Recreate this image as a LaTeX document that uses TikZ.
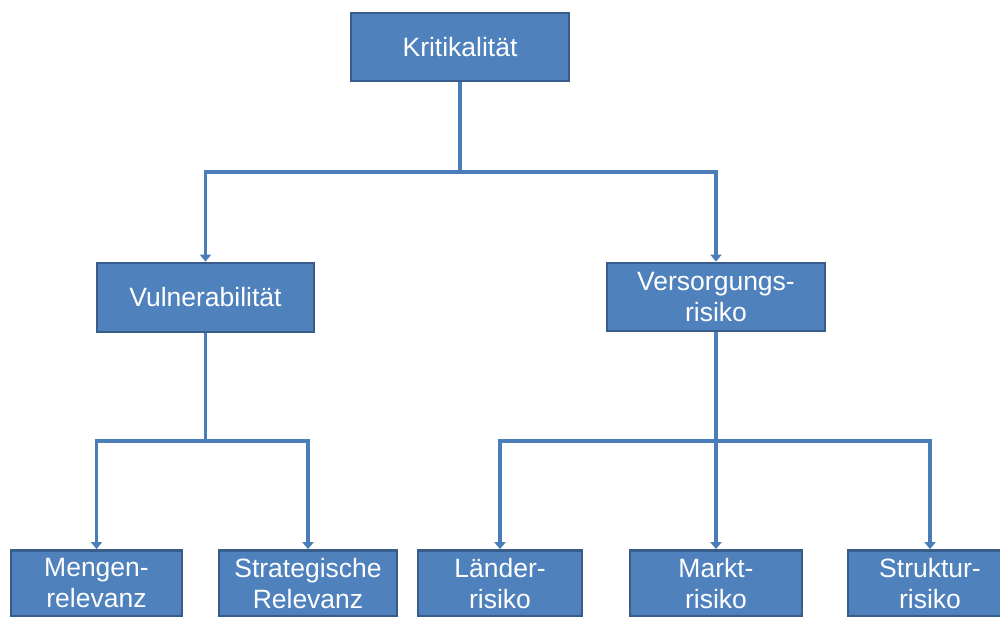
\documentclass[tikz,border=0pt]{standalone}
\usepackage{fontspec}
\setmainfont{Liberation Sans}
\usetikzlibrary{arrows.meta}
\definecolor{boxfill}{HTML}{4F81BD}
\definecolor{boxline}{HTML}{385D8A}
\definecolor{linkcol}{HTML}{4A7EBB}
\tikzset{
  box/.style={draw=boxline, line width=2.8pt, fill=boxfill, text=white, align=center,
    inner sep=0pt, font=\fontsize{26.5}{31}\selectfont},
  conn/.style={draw=linkcol, line width=3.2pt, -{Triangle[width=11pt,length=7pt]}},
  link/.style={draw=linkcol, line width=3.2pt},
}
\begin{document}
\begin{tikzpicture}[x=1pt,y=-1pt]
\useasboundingbox (0,0) rectangle (1000,617);
\clip (0,0) rectangle (1000,617);
% nodes
\node[box, minimum width=218pt, minimum height=68pt] (krit) at (460,47) {Kritikalit\"at};
\node[box, minimum width=217pt, minimum height=69pt] (vul) at (205.5,297.5) {Vulnerabilit\"at};
\node[box, minimum width=218pt, minimum height=68pt] (vers) at (716,297) {Versorgungs-\\risiko};
\node[box, minimum width=171pt, minimum height=66pt] (menge) at (96.5,583.5) {Mengen-\\relevanz};
\node[box, minimum width=178pt, minimum height=66pt] (strat) at (308,583.5) {Strategische\\Relevanz};
\node[box, minimum width=164pt, minimum height=66pt] (laend) at (500,583.5) {L\"ander-\\risiko};
\node[box, minimum width=172pt, minimum height=66pt] (markt) at (716,583.5) {Markt-\\risiko};
\node[box, minimum width=164pt, minimum height=66pt] (strukt) at (930,583.5) {Struktur-\\risiko};
% junctions
\coordinate (jk) at (460,172);
\coordinate (jv) at (205.5,441);
\coordinate (jr) at (716,441);
% connectors
\draw[link] (krit.south) -- (jk);
\draw[conn] (jk) -| (vul.north);
\draw[conn] (jk) -| (vers.north);
\draw[link] (vul.south) -- (jv);
\draw[conn] (jv) -| (menge.north);
\draw[conn] (jv) -| (strat.north);
\draw[link] (vers.south) -- (jr);
\draw[conn] (jr) -| (laend.north);
\draw[conn] (jr) -- (markt.north);
\draw[conn] (jr) -| (strukt.north);
\end{tikzpicture}
\end{document}
